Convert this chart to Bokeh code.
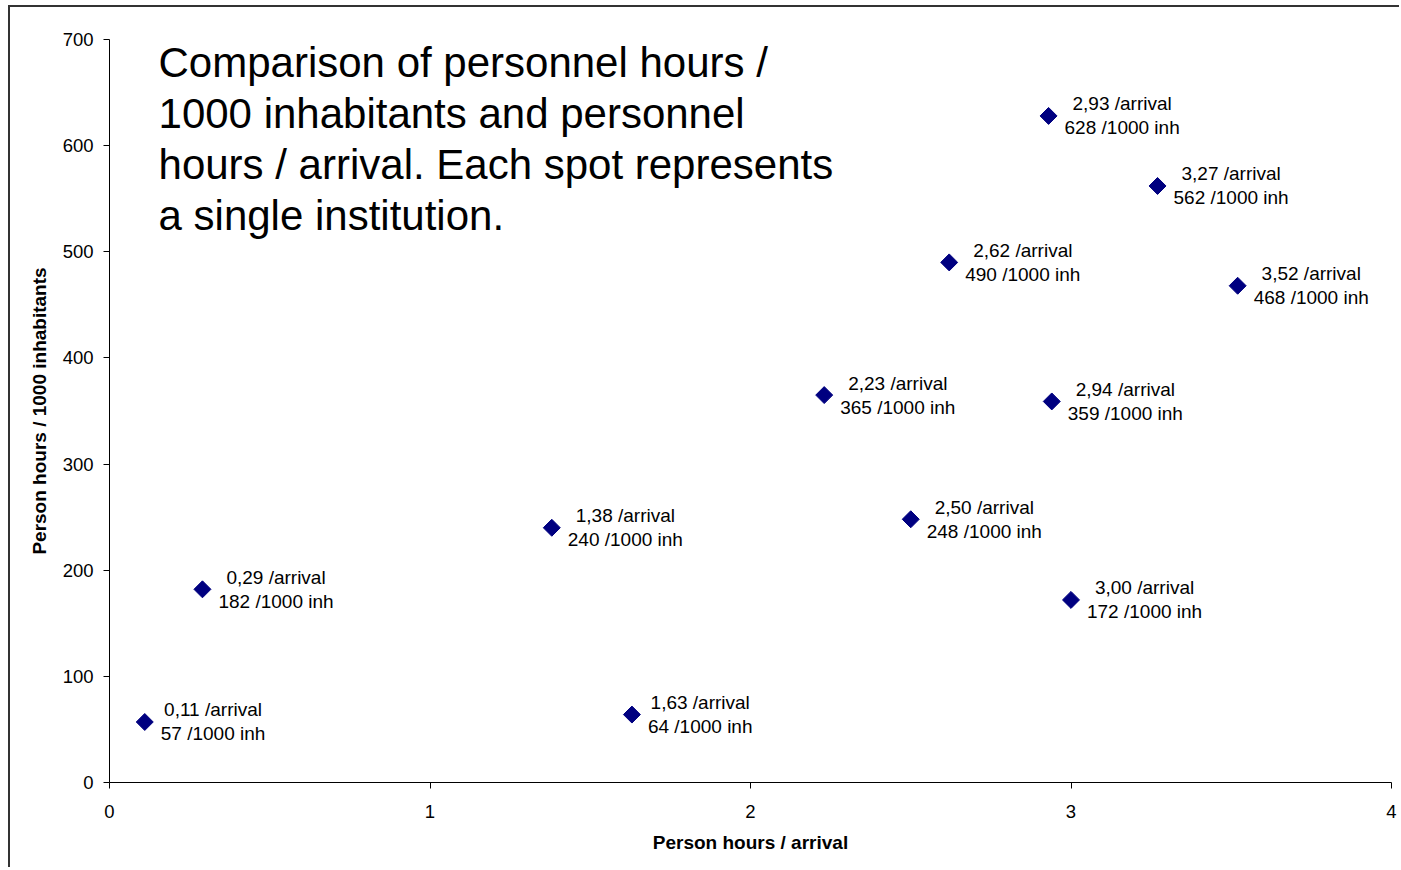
import math
from bokeh.plotting import figure
from bokeh.models import ColumnDataSource, Range1d, FixedTicker, Label
from bokeh.core.properties import value
from bokeh.embed import file_html
from bokeh.resources import INLINE

# ---- data ----
arrival = [0.11, 0.29, 1.38, 1.63, 2.23, 2.50, 2.62, 2.93, 2.94, 3.00, 3.27, 3.52]
per_1000 = [57, 182, 240, 64, 365, 248, 490, 628, 359, 172, 562, 468]
x_ticks = [0, 1, 2, 3, 4]
y_ticks = [0, 100, 200, 300, 400, 500, 600, 700]
title_lines = [
    "Comparison of personnel hours /",
    "1000 inhabitants and personnel",
    "hours / arrival. Each spot represents",
    "a single institution.",
]
x_label = "Person hours / arrival"
y_label = "Person hours / 1000 inhabitants"

FONT = "Liberation Sans"
LBL_PX = 19

line1 = [("%.2f" % a).replace(".", ",") + " /arrival" for a in arrival]
line2 = ["%d /1000 inh" % v for v in per_1000]
# centre of the label block, to the right of the marker
offs = [16 + LBL_PX * (0.556 * len(str(v)) + 4.392) / 2 for v in per_1000]

src = ColumnDataSource(dict(x=arrival, y=per_1000, l1=line1, l2=line2, off=offs))

p = figure(width=1391, height=862, output_backend="svg", toolbar_location=None,
           x_range=Range1d(0, 4), y_range=Range1d(0, 700),
           min_border_left=99, min_border_right=10, min_border_top=32, min_border_bottom=87)
p.styles = {"border-left": "2px solid #333333", "border-top": "2px solid #333333",
            "margin-left": "8px", "margin-top": "5px"}
p.outline_line_color = None
p.xgrid.visible = False
p.ygrid.visible = False
p.background_fill_color = "white"
p.border_fill_color = "white"

for ax in (p.xaxis, p.yaxis):
    ax.axis_line_color = "black"
    ax.major_tick_line_color = "black"
    ax.minor_tick_line_color = None
    ax.major_tick_in = 0
    ax.major_tick_out = 6
    ax.major_label_text_font = FONT
    ax.major_label_text_font_size = "18.5px"
    ax.major_label_text_color = "black"
    ax.axis_label_text_font = FONT
    ax.axis_label_text_font_size = "19px"
    ax.axis_label_text_font_style = "bold"
    ax.axis_label_text_color = "black"

p.xaxis.ticker = FixedTicker(ticks=x_ticks)
p.yaxis.ticker = FixedTicker(ticks=y_ticks)
p.xaxis.axis_label = x_label
p.yaxis.axis_label = y_label
p.xaxis.major_label_standoff = 16
p.yaxis.major_label_standoff = 10
p.xaxis.axis_label_standoff = 11
p.yaxis.axis_label_standoff = 10

p.scatter("x", "y", source=src, marker="square", size=12, angle=math.pi / 4,
          fill_color="#000080", line_color="#000080")

p.text("x", "y", text="l1", source=src, x_offset="off", y_offset=-12,
       text_align="center", text_baseline="middle", text_font=value(FONT),
       text_font_size="%dpx" % LBL_PX, text_color="black")
p.text("x", "y", text="l2", source=src, x_offset="off", y_offset=12,
       text_align="center", text_baseline="middle", text_font=value(FONT),
       text_font_size="%dpx" % LBL_PX, text_color="black")

# title block inside the plot (data-anchored, screen offsets)
for i, t in enumerate(title_lines):
    p.add_layout(Label(x=0.153, y=700, text=t, x_offset=0, y_offset=-(23 + 51 * i),
                       text_font=FONT, text_font_size="42px", text_color="black",
                       text_baseline="alphabetic", text_align="left"))

open("out.html", "w").write(file_html(p, INLINE))
